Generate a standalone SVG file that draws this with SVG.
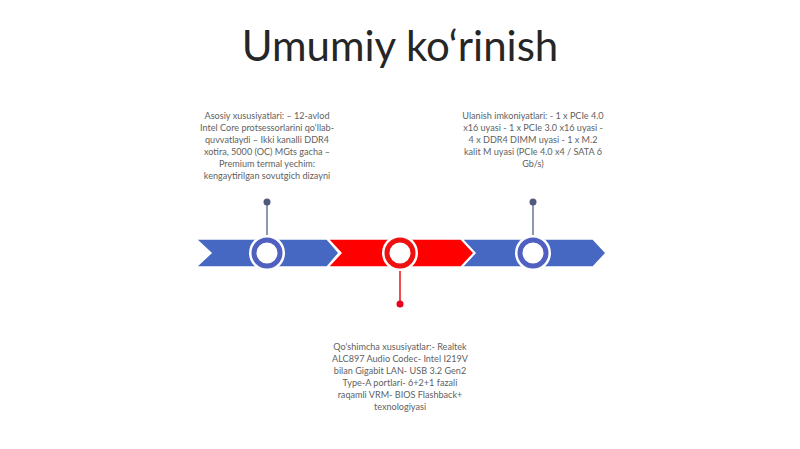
<svg xmlns="http://www.w3.org/2000/svg" width="800" height="449" viewBox="0 0 800 449">
<style>
.t{font-family:Lato,"Liberation Sans",sans-serif;font-size:9.1px;fill:#5f5f5f;text-anchor:middle}
.title{font-family:Lato,"Liberation Sans",sans-serif;font-size:42px;fill:#262626;text-anchor:middle}
.cb{fill:#4668C2;stroke:#fff;stroke-width:1.5}
.cr{fill:#FF0000;stroke:#fff;stroke-width:1.5}
.rb{fill:#fff;stroke:#5060C0;stroke-width:5}
.rr{fill:#fff;stroke:#EE1111;stroke-width:5}
.halo{fill:#fff}
</style>
<rect width="800" height="449" fill="#fff"/>
<text class="title" x="400" y="61">Umumiy ko‘rinish</text>
<g id="connectors">
<line x1="267" y1="202" x2="267" y2="238" stroke="#6A7696" stroke-width="1.5"/>
<circle cx="267" cy="202" r="3.5" fill="#4F5A7E"/>
<line x1="533" y1="202" x2="533" y2="238" stroke="#6A7696" stroke-width="1.5"/>
<circle cx="533" cy="202" r="3.5" fill="#4F5A7E"/>
<line x1="400" y1="268" x2="400" y2="304" stroke="#EE1111" stroke-width="1.5"/>
<circle cx="400" cy="304" r="3.5" fill="#E8001C"/>
</g>
<g id="chevron1"><polygon class="cb" points="196,239 327,239 339,253 327,267 196,267 211,253"/></g>
<g id="chevron2"><polygon class="cr" points="328,239 461,239 474,253 461,267 328,267 341,253"/></g>
<g id="chevron3"><polygon class="cb" points="462,239 593,239 606,253 593,267 462,267 475,253"/></g>
<g id="node1"><circle class="halo" cx="267" cy="253" r="18"/><circle class="rb" cx="267" cy="253" r="13"/>
<text class="t"><tspan x="267" y="119">Asosiy xususiyatlari: – 12-avlod</tspan><tspan x="267" y="131">Intel Core protsessorlarini qo‘llab-</tspan><tspan x="267" y="143">quvvatlaydi – Ikki kanalli DDR4</tspan><tspan x="267" y="155">xotira, 5000 (OC) MGts gacha –</tspan><tspan x="267" y="167">Premium termal yechim:</tspan><tspan x="267" y="179">kengaytirilgan sovutgich dizayni</tspan></text></g>
<g id="node2"><circle class="halo" cx="400" cy="253" r="18"/><circle class="rr" cx="400" cy="253" r="13"/>
<text class="t"><tspan x="400" y="350">Qo‘shimcha xususiyatlar:- Realtek</tspan><tspan x="400" y="362">ALC897 Audio Codec- Intel I219V</tspan><tspan x="400" y="374">bilan Gigabit LAN- USB 3.2 Gen2</tspan><tspan x="400" y="386">Type-A portlari- 6+2+1 fazali</tspan><tspan x="400" y="398">raqamli VRM- BIOS Flashback+</tspan><tspan x="400" y="410">texnologiyasi</tspan></text></g>
<g id="node3"><circle class="halo" cx="533" cy="253" r="18"/><circle class="rb" cx="533" cy="253" r="13"/>
<text class="t"><tspan x="533" y="119">Ulanish imkoniyatlari: - 1 x PCIe 4.0</tspan><tspan x="533" y="131">x16 uyasi - 1 x PCIe 3.0 x16 uyasi -</tspan><tspan x="533" y="143">4 x DDR4 DIMM uyasi - 1 x M.2</tspan><tspan x="533" y="155">kalit M uyasi (PCIe 4.0 x4 / SATA 6</tspan><tspan x="533" y="167">Gb/s)</tspan></text></g>
</svg>
